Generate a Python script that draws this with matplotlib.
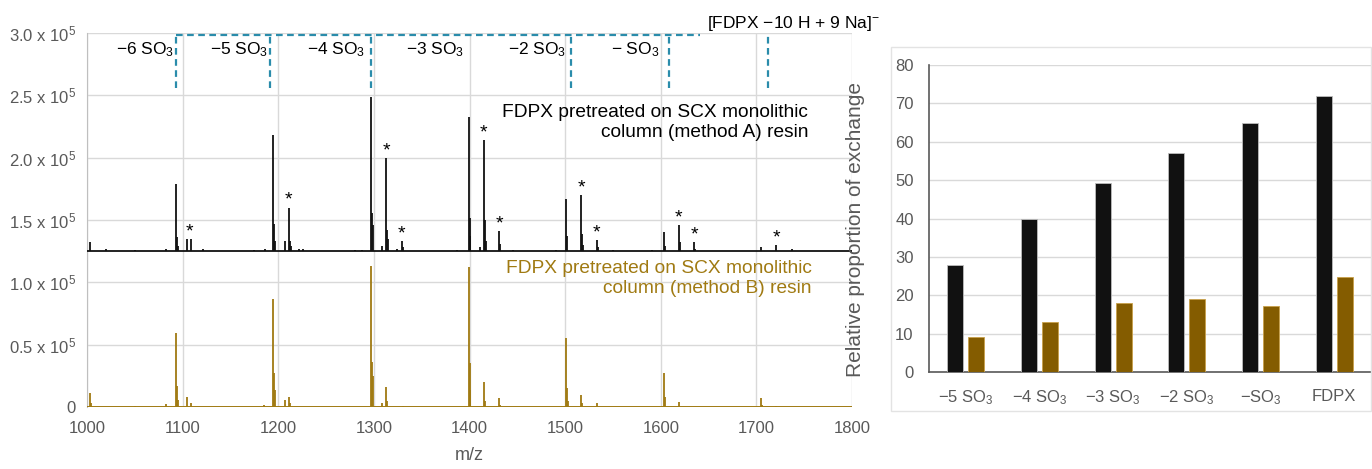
import matplotlib
matplotlib.use("Agg")
import matplotlib.pyplot as plt
from matplotlib.patches import Rectangle
import numpy as np

plt.rcParams['font.family'] = ['Liberation Sans', 'DejaVu Sans']
plt.rcParams['mathtext.fontset'] = 'custom'
plt.rcParams['mathtext.rm'] = 'Liberation Sans'
plt.rcParams['mathtext.it'] = 'Liberation Sans:italic'

# ---------------- Spectrum data ----------------
mz_A = [1003, 1020, 1050, 1083, 1093, 1094, 1095, 1105, 1109, 1121, 1175, 1186,
        1195, 1196, 1197, 1207, 1211, 1212, 1213, 1222, 1226, 1280, 1288,
        1297, 1298, 1299, 1309, 1313, 1314, 1315, 1324, 1329, 1330, 1387,
        1399, 1400, 1401, 1411, 1415, 1416, 1417, 1431, 1432, 1445, 1490,
        1501, 1502, 1517, 1518, 1519, 1533, 1534, 1550, 1591,
        1603, 1604, 1619, 1620, 1635, 1636, 1705, 1721, 1737]
int_A = [7000, 1500, 800, 1500, 54000, 11000, 4000, 10000, 10000, 1500, 800, 1500,
         93000, 22000, 8000, 8000, 35000, 8000, 4000, 2000, 1500, 1000, 1200,
         124000, 31000, 21000, 4000, 75000, 17000, 10000, 1500, 8000, 3000, 1200,
         108000, 27000, 12000, 3000, 89000, 25000, 8000, 16000, 6000, 1000, 1000,
         42000, 12000, 45000, 14000, 5000, 9000, 3000, 800, 1000,
         15000, 4000, 21000, 7000, 7000, 2000, 3000, 5000, 1500]

mz_B = [1003, 1004, 1050, 1083, 1093, 1094, 1095, 1105, 1109, 1185,
        1195, 1196, 1197, 1207, 1211, 1212, 1297, 1298, 1299, 1309, 1313, 1314,
        1330, 1399, 1400, 1401, 1415, 1416, 1431, 1432, 1501, 1502, 1503,
        1517, 1518, 1533, 1603, 1604, 1619, 1705, 1706, 1721]
int_B = [11000, 3000, 1000, 2500, 59000, 17000, 6000, 8000, 3000, 1500,
         87000, 27000, 14000, 6000, 8000, 3000, 113000, 36000, 25000, 3000, 16000, 5000,
         1000, 112000, 35000, 14000, 20000, 5000, 7000, 2000, 55000, 15000, 5000,
         10000, 3000, 3000, 27000, 8000, 4000, 7000, 2000, 1000]

offset_A = 125000
star_mz = [1107, 1211, 1313, 1329, 1415, 1431, 1517, 1533, 1619, 1635, 1721]

loss_labels = ["\u22126 SO$_3$", "\u22125 SO$_3$", "\u22124 SO$_3$", "\u22123 SO$_3$",
               "\u22122 SO$_3$", "\u2212 SO$_3$"]
loss_label_mz = [1091, 1189, 1291, 1394, 1501, 1599]
dash_mz = [1093, 1191, 1297, 1506, 1609, 1712]
dash_h_end = 1641

x_ticks = [1000, 1100, 1200, 1300, 1400, 1500, 1600, 1700, 1800]
y_ticks = [0, 50000, 100000, 150000, 200000, 250000, 300000]
y_ticklabels = ["0", "0.5 x 10$^5$", "1.0 x 10$^5$", "1.5 x 10$^5$",
                "2.0 x 10$^5$", "2.5 x 10$^5$", "3.0 x 10$^5$"]

# ---------------- Bar data ----------------
bar_cats = ["\u22125 SO$_3$", "\u22124 SO$_3$", "\u22123 SO$_3$", "\u22122 SO$_3$",
            "\u2212SO$_3$", "FDPX"]
bar_A = [28, 40, 49.3, 57, 65, 72]
bar_B = [9, 13, 18, 19, 17.3, 24.7]

col_A = "#111111"
col_B_line = "#a07a12"
col_B_bar = "#845c00"
col_dash = "#2a8cab"
grey_txt = "#595959"
grid_c = "#d9d9d9"

W, H = 1372, 469
fig = plt.figure(figsize=(W / 100, H / 100), dpi=100)

# ---------------- Left: spectra ----------------
ax = fig.add_axes([87 / W, 1 - 407 / H, (852 - 87) / W, (407 - 33) / H])
ax.set_xlim(1000, 1800)
ax.set_ylim(0, 300000)
ax.set_xticks(x_ticks)
ax.set_yticks(y_ticks)
ax.set_yticklabels(y_ticklabels)
ax.grid(True, color=grid_c, lw=1)
ax.set_axisbelow(True)
for s in ['top', 'right', 'bottom']:
    ax.spines[s].set_visible(False)
ax.spines['left'].set_color('#bfbfbf')
ax.tick_params(axis='both', length=0, labelsize=12, colors=grey_txt)
ax.tick_params(axis='x', pad=10)
ax.tick_params(axis='y', pad=8)
ax.set_xlabel("m/z", fontsize=13, color=grey_txt, labelpad=8)

# trace B (bottom)
ax.hlines(0, 1000, 1800, color=col_B_line, lw=1.4, zorder=3)
ax.vlines(mz_B, 0, int_B, color=col_B_line, lw=1.3, zorder=3)
# trace A (offset)
ax.hlines(offset_A, 1000, 1800, color=col_A, lw=1.3, zorder=3)
ax.vlines(mz_A, offset_A, np.array(int_A) + offset_A, color=col_A, lw=1.3, zorder=3)

# asterisks
mzA = np.array(mz_A)
intA = np.array(int_A)
for m in star_mz:
    top = intA[np.abs(mzA - m) <= 2].max() + offset_A
    ax.annotate("*", (m, top), xytext=(0, -1), textcoords='offset points',
                ha='center', va='bottom', fontsize=14, color='black', zorder=4)

# dashed brackets
ytop = 298500
ybot = 256000
ax.hlines(ytop, dash_mz[0], dash_h_end, color=col_dash, lw=1.6,
          linestyles=(0, (3, 2)), zorder=4, clip_on=False)
ax.vlines(dash_mz, ybot, ytop, color=col_dash, lw=1.6,
          linestyles=(0, (3, 2)), zorder=4)
for lab, m in zip(loss_labels, loss_label_mz):
    ax.text(m, 287000, lab, ha='right', va='center', fontsize=12.5, color='black')
ax.text(1648, 308000, "[FDPX \u221210 H + 9 Na]$^{\u2212}$", ha='left', va='center',
        fontsize=12.5, color='black', clip_on=False)

ax.text(1754, 228000, "FDPX pretreated on SCX monolithic\ncolumn (method A) resin",
        ha='right', va='center', fontsize=13.8, color='black', linespacing=1.2)
ax.text(1758, 103000, "FDPX pretreated on SCX monolithic\ncolumn (method B) resin",
        ha='right', va='center', fontsize=13.8, color=col_B_line, linespacing=1.2)

# ---------------- Right: bars ----------------
fig.patches.append(Rectangle((891 / W, 1 - 411 / H), (1371 - 891) / W, (411 - 47) / H,
                             transform=fig.transFigure, fill=False,
                             edgecolor='#e3e3e3', lw=1, zorder=0))
bx = fig.add_axes([929 / W, 1 - 372 / H, (1371 - 929) / W, (372 - 65) / H])
x = np.arange(len(bar_cats))
bx.bar(x - 0.143, bar_A, width=0.22, color=col_A, edgecolor='#bdbdbd', lw=0.6, zorder=3)
bx.bar(x + 0.143, bar_B, width=0.22, color=col_B_bar, edgecolor='#c9a14a', lw=0.6, zorder=3)
bx.set_xlim(-0.5, 5.5)
bx.set_ylim(0, 80)
bx.set_yticks(range(0, 81, 10))
bx.set_xticks(x)
bx.set_xticklabels(bar_cats)
bx.yaxis.grid(True, color=grid_c, lw=1)
bx.set_axisbelow(True)
for s in ['top', 'right']:
    bx.spines[s].set_visible(False)
for s in ['left', 'bottom']:
    bx.spines[s].set_color('#595959')
    bx.spines[s].set_linewidth(1.2)
bx.tick_params(axis='both', length=0, labelsize=12, colors=grey_txt)
bx.tick_params(axis='y', pad=11, labelsize=12)
bx.tick_params(axis='x', pad=12)
bx.set_ylabel("Relative proportion of exchange", fontsize=15, color=grey_txt)
bx.yaxis.set_label_coords(-(929 - 865) / 442, (372 - 229) / 307)

fig.savefig("out.png", dpi=100)
